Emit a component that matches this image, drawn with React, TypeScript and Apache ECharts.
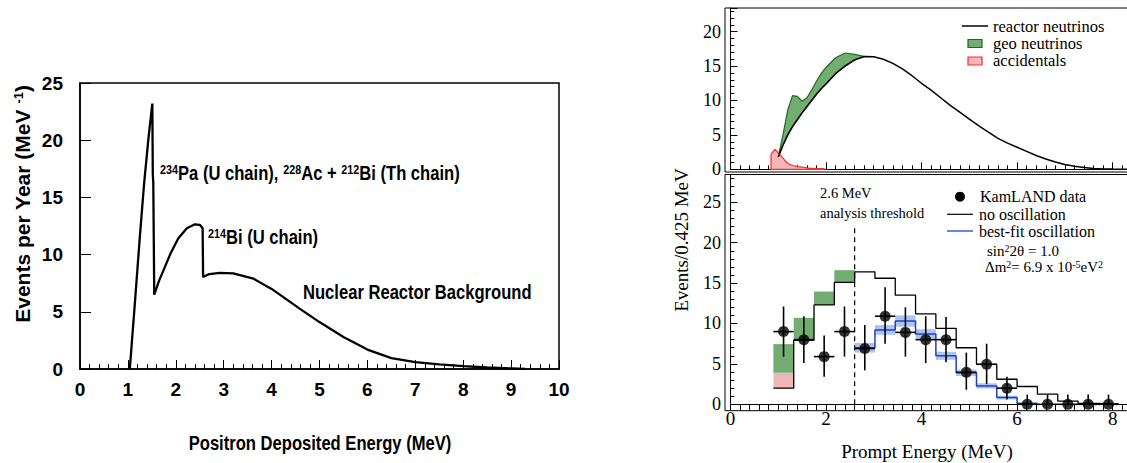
import React, { useEffect, useRef } from "react";
import * as echarts from "echarts";

// ---------- Left chart: geo-neutrino / reactor spectrum ----------
const leftX = [1.04, 1.15, 1.25, 1.34, 1.43, 1.51, 1.52, 1.53, 1.55, 1.65, 1.74, 1.88, 2.05, 2.23, 2.4, 2.5, 2.56, 2.57, 2.7, 2.92, 3.2, 3.62, 4.0, 4.63, 5.0, 5.5, 6.0, 6.5, 7.0, 7.5, 8.0, 8.5, 9.0, 9.3];
const leftY = [0, 6.0, 11.6, 16.3, 20.2, 23.2, 17.0, 16.3, 6.5, 7.7, 8.6, 10.0, 11.4, 12.3, 12.65, 12.6, 12.3, 8.05, 8.3, 8.4, 8.35, 7.9, 7.0, 5.15, 4.1, 2.8, 1.7, 0.95, 0.6, 0.4, 0.25, 0.13, 0.05, 0];

// ---------- Right top panel ----------
const topX = [1.0, 1.1, 1.2, 1.3, 1.4, 1.5, 1.6, 1.7, 1.8, 1.9, 2.0, 2.2, 2.4, 2.6, 2.8, 3.0, 3.2, 3.4, 3.6, 3.8, 4.0, 4.2, 4.4, 4.6, 4.8, 5.0, 5.2, 5.4, 5.6, 5.8, 6.0, 6.2, 6.4, 6.6, 6.8, 7.0, 7.2, 7.4, 7.6, 7.8, 8.0, 8.2, 8.4];
const reactorTop = [1.8, 3.5, 5.0, 6.2, 7.2, 8.2, 9.1, 10.0, 10.9, 11.7, 12.4, 13.9, 15.0, 15.9, 16.4, 16.35, 16.0, 15.4, 14.6, 13.6, 12.5, 11.5, 10.4, 9.3, 8.3, 7.3, 6.3, 5.4, 4.5, 3.8, 3.2, 2.6, 2.0, 1.5, 1.05, 0.7, 0.45, 0.25, 0.12, 0.06, 0.03, 0.02, 0.01];
const geoTotal = [1.8, 5.0, 8.6, 10.7, 10.6, 9.9, 10.4, 11.5, 12.8, 13.9, 14.8, 16.2, 16.9, 16.7, 16.4];
const accX = [0.85, 0.93, 1.0, 1.08, 1.15, 1.21, 1.3, 1.4, 1.49, 1.6, 1.7, 1.8, 1.96];
const accY = [2.2, 2.9, 2.4, 1.8, 1.2, 0.8, 0.55, 0.4, 0.33, 0.2, 0.12, 0.1, 0.1];

// ---------- Right bottom panel ----------
const binEdges = [0.9, 1.325, 1.75, 2.175, 2.6, 3.025, 3.45, 3.875, 4.3, 4.725, 5.15, 5.575, 6.0, 6.425, 6.85, 7.275, 7.7, 8.125];
const noOsc = [2.0, 7.9, 12.3, 15.1, 16.4, 15.6, 13.5, 11.2, 9.4, 7.0, 4.95, 3.1, 2.2, 1.25, 0.4, 0.12, 0.05];
const accidTopB = [3.9, 7.9, 12.3, 15.1];
const geoTopB = [7.45, 10.7, 13.95, 16.6];
const bestFitStart = 4;
const bestFit = [7.0, 9.2, 10.3, 8.7, 6.0, 3.9, 2.27, 0.83, 0.1];
const bestFitLo = [6.4, 8.6, 9.6, 8.1, 5.5, 3.5, 1.95, 0.6, 0.0];
const bestFitHi = [7.6, 9.8, 11.0, 9.3, 6.5, 4.3, 2.6, 1.05, 0.25];
const dataY = [9.0, 8.0, 5.9, 9.0, 6.9, 10.9, 8.9, 8.0, 8.0, 3.96, 4.95, 2.0, 0, 0, 0, 0, 0];
const dataLo = [5.9, 5.1, 3.4, 5.9, 4.2, 7.5, 5.9, 5.1, 5.2, 1.8, 2.5, 0.6, 0, 0, 0, 0, 0];
const dataHi = [12.1, 10.9, 8.5, 12.1, 9.8, 14.5, 12.0, 10.9, 10.8, 6.4, 7.5, 3.4, 1.2, 1.2, 1.2, 1.2, 1.2];
const threshold = 2.6;
const thresholdTop = 21.8;

const SERIF = "'Liberation Serif', 'Times New Roman', serif";
const SANS = "'Liberation Sans', Arial, sans-serif";
const SQUEEZE = 0.83;

const GREEN = "#72ae72";
const GREEN_DARK = "#1d6b1d";
const PINK = "#f5b8b8";
const RED = "#ff2a2a";
const BLUE = "#1f3fd0";
const BLUE_BAND = "#aec4ef";

function stepData(edges: number[], vals: number[], start: number) {
  const pts = vals.map((v, i) => [edges[start + i], v]);
  pts.push([edges[start + vals.length], vals[vals.length - 1]]);
  return pts;
}

function rectSeries(rects: number[][], color: string, xi: number, yi: number, z: number) {
  return {
    type: "custom",
    xAxisIndex: xi,
    yAxisIndex: yi,
    z,
    silent: true,
    data: rects,
    encode: { x: [0, 1], y: [2, 3] },
    renderItem: (params: any, api: any) => {
      const p0 = api.coord([api.value(0), api.value(3)]);
      const p1 = api.coord([api.value(1), api.value(2)]);
      return {
        type: "rect",
        shape: { x: p0[0], y: p0[1], width: p1[0] - p0[0], height: p1[1] - p0[1] },
        style: { fill: color },
      };
    },
  };
}

function polySeries(pts: number[][], fill: string, stroke: string, xi: number, yi: number, z: number) {
  return {
    type: "custom",
    xAxisIndex: xi,
    yAxisIndex: yi,
    z,
    silent: true,
    data: [pts[0]],
    renderItem: (params: any, api: any) => ({
      type: "polygon",
      shape: { points: pts.map((p) => api.coord(p)) },
      style: { fill, stroke, lineWidth: 1.2 },
    }),
  };
}

function boldText(text: string, x: number, y: number, align: string, size = 20) {
  return {
    type: "text",
    x,
    y,
    scaleX: SQUEEZE,
    z: 20,
    style: {
      text,
      fontFamily: SANS,
      fontWeight: "bold",
      fontSize: size,
      fill: "#000",
      align,
      verticalAlign: "middle",
      rich: { s: { fontFamily: SANS, fontWeight: "bold", fontSize: 13, verticalAlign: "top" } },
    },
  };
}

export default function App() {
  const ref = useRef<HTMLDivElement>(null);
  useEffect(() => {
    if (!ref.current) return;
    const chart = echarts.init(ref.current, undefined, { renderer: "svg" });

    const leftData = leftX.map((x, i) => [x, leftY[i]]);
    const reactorData = topX.map((x, i) => [x, reactorTop[i]]);
    const geoPoly = [
      ...geoTotal.map((v, i) => [topX[i], v]),
      ...geoTotal.map((_, i) => [topX[i], reactorTop[i]]).reverse(),
    ];
    const accPoly = [[accX[0], 0], ...accX.map((x, i) => [x, accY[i]]), [accX[accX.length - 1], 0]];

    const pinkRects = accidTopB.map((v, i) => [binEdges[i], binEdges[i + 1], noOsc[i], v]);
    const greenRects = geoTopB.map((v, i) => [binEdges[i], binEdges[i + 1], accidTopB[i], v]);
    const bandRects = bestFit.map((_, i) => [
      binEdges[bestFitStart + i],
      binEdges[bestFitStart + i + 1],
      bestFitLo[i],
      bestFitHi[i],
    ]);
    const centers = dataY.map((_, i) => (binEdges[i] + binEdges[i + 1]) / 2);
    const halfW = (binEdges[1] - binEdges[0]) / 2;

    const rightY = (gi: number, max: number) => ({
      gridIndex: gi,
      type: "value",
      min: 0,
      max,
      interval: 5,
      offset: 5.4,
      axisLine: { show: true, lineStyle: { color: "#000", width: 1 } },
      axisTick: { show: true, inside: true, length: 7, lineStyle: { color: "#000" } },
      minorTick: { show: true, splitNumber: 5, length: 4, lineStyle: { color: "#000" } },
      splitLine: { show: false },
      axisLabel: { color: "#000", fontFamily: SERIF, fontSize: 18, margin: 4, showMaxLabel: false },
    });

    chart.setOption({
      animation: false,
      grid: [
        { left: 80, top: 83, width: 479, height: 286, show: true, borderColor: "#000", borderWidth: 1.5 },
        { left: 730.4, top: 8, width: 406.7, height: 161.3 },
        { left: 730.4, top: 174.5, width: 406.7, height: 229.8 },
      ],
      xAxis: [
        {
          gridIndex: 0,
          type: "value",
          min: 0,
          max: 10,
          interval: 1,
          axisLine: { lineStyle: { color: "#000", width: 1.5 } },
          axisTick: { inside: true, length: 9, lineStyle: { color: "#000", width: 1 } },
          minorTick: { show: true, splitNumber: 5, length: 5, lineStyle: { color: "#000", width: 1 } },
          splitLine: { show: false },
          axisLabel: { color: "#000", fontFamily: SANS, fontWeight: "bold", fontSize: 19, margin: 11 },
        },
        {
          gridIndex: 1,
          type: "value",
          min: 0,
          max: 8.3,
          interval: 2,
          axisLine: { lineStyle: { color: "#000", width: 1 } },
          axisTick: { inside: true, length: 7, lineStyle: { color: "#000" } },
          minorTick: { show: true, splitNumber: 10, length: 4, lineStyle: { color: "#000" } },
          splitLine: { show: false },
          axisLabel: { show: false },
        },
        {
          gridIndex: 2,
          type: "value",
          min: 0,
          max: 8.3,
          interval: 2,
          axisLine: { lineStyle: { color: "#000", width: 1 } },
          axisTick: { inside: false, length: 6.4, lineStyle: { color: "#000" } },
          minorTick: { show: true, splitNumber: 10, length: 6.4, lineStyle: { color: "#000" } },
          splitLine: { show: false },
          axisLabel: { color: "#000", fontFamily: SERIF, fontSize: 19, margin: 5, showMaxLabel: false },
        },
      ],
      yAxis: [
        {
          gridIndex: 0,
          type: "value",
          min: 0,
          max: 25,
          interval: 5,
          axisLine: { lineStyle: { color: "#000", width: 1.5 } },
          axisTick: { inside: true, length: 11, lineStyle: { color: "#000" } },
          splitLine: { show: false },
          axisLabel: { color: "#000", fontFamily: SANS, fontWeight: "bold", fontSize: 19, margin: 17 },
        },
        rightY(1, 23.44),
        rightY(2, 28.44),
      ],
      series: [
        {
          type: "line",
          xAxisIndex: 0,
          yAxisIndex: 0,
          data: leftData,
          showSymbol: false,
          lineStyle: { color: "#000", width: 2.3 },
          z: 3,
        },
        polySeries(geoPoly, GREEN, GREEN_DARK, 1, 1, 2),
        polySeries(accPoly, PINK, RED, 1, 1, 2),
        {
          type: "line",
          xAxisIndex: 1,
          yAxisIndex: 1,
          data: reactorData,
          showSymbol: false,
          lineStyle: { color: "#000", width: 1.5 },
          z: 4,
        },
        rectSeries(pinkRects, "#f2b6b6", 2, 2, 1),
        rectSeries(greenRects, GREEN, 2, 2, 1),
        rectSeries(bandRects, BLUE_BAND, 2, 2, 1),
        {
          type: "line",
          xAxisIndex: 2,
          yAxisIndex: 2,
          data: stepData(binEdges, noOsc, 0),
          step: "end",
          showSymbol: false,
          lineStyle: { color: "#000", width: 1.3 },
          z: 3,
        },
        {
          type: "line",
          xAxisIndex: 2,
          yAxisIndex: 2,
          data: stepData(binEdges, bestFit, bestFitStart),
          step: "end",
          showSymbol: false,
          lineStyle: { color: BLUE, width: 1.5 },
          z: 4,
        },
        {
          type: "line",
          xAxisIndex: 2,
          yAxisIndex: 2,
          data: [
            [threshold, 0],
            [threshold, thresholdTop],
          ],
          showSymbol: false,
          lineStyle: { color: "#000", width: 1.2, type: [5, 4] },
          z: 3,
        },
        {
          type: "custom",
          xAxisIndex: 2,
          yAxisIndex: 2,
          z: 5,
          silent: true,
          data: centers.map((c, i) => [c, dataY[i], dataLo[i], dataHi[i]]),
          encode: { x: 0, y: [1, 2, 3] },
          renderItem: (params: any, api: any) => {
            const x = api.value(0);
            const y = api.value(1);
            const top = api.coord([x, api.value(3)]);
            const bot = api.coord([x, api.value(2)]);
            const l = api.coord([x - halfW, y]);
            const r = api.coord([x + halfW, y]);
            return {
              type: "group",
              children: [
                { type: "line", shape: { x1: top[0], y1: top[1], x2: bot[0], y2: bot[1] }, style: { stroke: "#000", lineWidth: 1.6 } },
                { type: "line", shape: { x1: l[0], y1: l[1], x2: r[0], y2: r[1] }, style: { stroke: "#000", lineWidth: 1.6 } },
              ],
            };
          },
        },
        {
          type: "scatter",
          xAxisIndex: 2,
          yAxisIndex: 2,
          data: centers.map((c, i) => [c, dataY[i]]),
          symbol: "circle",
          symbolSize: 11,
          itemStyle: { color: "#000" },
          z: 6,
        },
      ],
      graphic: [
        // right panel frames
        { type: "rect", shape: { x: 725, y: 8, width: 420, height: 164 }, style: { fill: "none", stroke: "#000", lineWidth: 1 }, z: 10 },
        { type: "rect", shape: { x: 725, y: 174.5, width: 420, height: 236.2 }, style: { fill: "none", stroke: "#000", lineWidth: 1 }, z: 10 },
        // left titles
        {
          type: "text",
          x: 22,
          y: 204,
          rotation: Math.PI / 2,
          z: 20,
          style: {
            text: "Events per Year (MeV {s|-1})",
            fontFamily: SANS,
            fontWeight: "bold",
            fontSize: 21,
            fill: "#000",
            align: "center",
            verticalAlign: "middle",
            rich: { s: { fontFamily: SANS, fontWeight: "bold", fontSize: 13, verticalAlign: "top" } },
          },
        },
        boldText("Positron Deposited Energy (MeV)", 320, 443, "center", 20),
        boldText("{s|234}Pa (U chain), {s|228}Ac + {s|212}Bi (Th chain)", 160, 173, "left", 20),
        boldText("{s|214}Bi (U chain)", 208, 237, "left", 20),
        boldText("Nuclear Reactor Background", 303, 292, "left", 20),
        // right titles
        {
          type: "text",
          x: 681,
          y: 240,
          rotation: Math.PI / 2,
          z: 20,
          style: { text: "Events/0.425 MeV", fontFamily: SERIF, fontSize: 19, fill: "#000", align: "center", verticalAlign: "middle" },
        },
        {
          type: "text",
          x: 927,
          y: 451,
          z: 20,
          style: { text: "Prompt Energy (MeV)", fontFamily: SERIF, fontSize: 19, fill: "#000", align: "center", verticalAlign: "middle" },
        },
        // top legend
        { type: "line", shape: { x1: 962, y1: 26, x2: 988, y2: 26 }, style: { stroke: "#000", lineWidth: 1.5 }, z: 20 },
        { type: "text", x: 993, y: 26, z: 20, style: { text: "reactor neutrinos", fontFamily: SERIF, fontSize: 16.5, fill: "#000", align: "left", verticalAlign: "middle" } },
        { type: "rect", shape: { x: 968, y: 39.5, width: 14, height: 8 }, style: { fill: GREEN, stroke: GREEN_DARK, lineWidth: 1.2 }, z: 20 },
        { type: "text", x: 993, y: 43.3, z: 20, style: { text: "geo neutrinos", fontFamily: SERIF, fontSize: 16.5, fill: "#000", align: "left", verticalAlign: "middle" } },
        { type: "rect", shape: { x: 968, y: 57, width: 14, height: 8 }, style: { fill: PINK, stroke: RED, lineWidth: 1.2 }, z: 20 },
        { type: "text", x: 993, y: 60.7, z: 20, style: { text: "accidentals", fontFamily: SERIF, fontSize: 16.5, fill: "#000", align: "left", verticalAlign: "middle" } },
        // bottom legend
        { type: "circle", shape: { cx: 960, cy: 196.7, r: 5 }, style: { fill: "#000" }, z: 20 },
        { type: "text", x: 980, y: 196.7, z: 20, style: { text: "KamLAND data", fontFamily: SERIF, fontSize: 16, fill: "#000", align: "left", verticalAlign: "middle" } },
        { type: "line", shape: { x1: 947, y1: 214.3, x2: 973, y2: 214.3 }, style: { stroke: "#000", lineWidth: 1.2 }, z: 20 },
        { type: "text", x: 979, y: 214.3, z: 20, style: { text: "no oscillation", fontFamily: SERIF, fontSize: 16, fill: "#000", align: "left", verticalAlign: "middle" } },
        { type: "line", shape: { x1: 947, y1: 231, x2: 973, y2: 231 }, style: { stroke: BLUE, lineWidth: 1.3 }, z: 20 },
        { type: "text", x: 979, y: 231, z: 20, style: { text: "best-fit oscillation", fontFamily: SERIF, fontSize: 16, fill: "#000", align: "left", verticalAlign: "middle" } },
        {
          type: "text",
          x: 987,
          y: 251,
          z: 20,
          style: {
            text: "sin{s|2}2\u03b8 = 1.0",
            fontFamily: SERIF,
            fontSize: 15,
            fill: "#000",
            align: "left",
            verticalAlign: "middle",
            rich: { s: { fontFamily: SERIF, fontSize: 10, verticalAlign: "top" } },
          },
        },
        {
          type: "text",
          x: 985,
          y: 267,
          z: 20,
          style: {
            text: "\u0394m{s|2}= 6.9 x 10{s|-5}eV{s|2}",
            fontFamily: SERIF,
            fontSize: 15,
            fill: "#000",
            align: "left",
            verticalAlign: "middle",
            rich: { s: { fontFamily: SERIF, fontSize: 10, verticalAlign: "top" } },
          },
        },
        { type: "text", x: 820, y: 193, z: 20, style: { text: "2.6 MeV", fontFamily: SERIF, fontSize: 14.5, fill: "#000", align: "left", verticalAlign: "middle" } },
        { type: "text", x: 820, y: 212.7, z: 20, style: { text: "analysis threshold", fontFamily: SERIF, fontSize: 14.5, fill: "#000", align: "left", verticalAlign: "middle" } },
      ],
    });
    return () => chart.dispose();
  }, []);
  return <div ref={ref} style={{ position: "absolute", left: 0, top: 0, width: 1127, height: 463, background: "#fff" }} />;
}
